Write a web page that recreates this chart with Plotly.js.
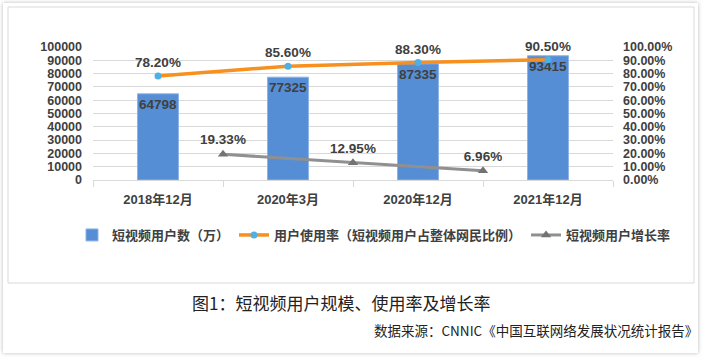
<!DOCTYPE html>
<html>
<head>
<meta charset="utf-8">
<script src="https://cdn.plot.ly/plotly-3.0.1.min.js"></script>
<style>
html,body{margin:0;padding:0;background:#fff;}
#card{position:absolute;left:3px;top:3px;width:695px;height:350px;background:#fff;box-shadow:0 0 4px rgba(0,0,0,0.28);}
#chart{position:absolute;left:0;top:0;width:704px;height:359px;}
</style>
</head>
<body>
<div id="card"></div>
<div id="chart"></div>
<script>
const categories = ['2018年12月', '2020年3月', '2020年12月', '2021年12月'];
const users = [64798, 77325, 87335, 93415];
const usageRate = [0.782, 0.856, 0.883, 0.905];
const growthRate = [0.1933, 0.1295, 0.0696];
const seriesNames = ['短视频用户数（万）', '用户使用率（短视频用户占整体网民比例）', '短视频用户增长率'];
const chartTitle = '图1：短视频用户规模、使用率及增长率';
const sourceText = '数据来源：CNNIC《中国互联网络发展状况统计报告》';

const catPos = categories.map((c, i) => i);
const midPos = growthRate.map((g, i) => i + 0.5);
const pct = v => (v * 100).toFixed(2) + '%';

const FONT = 'Liberation Sans, Arial, Noto Sans CJK SC, sans-serif';
const CJK = 'Noto Sans CJK SC, Liberation Sans, sans-serif';
const TXT = '#404040';

const traces = [
  {
    type: 'bar', name: seriesNames[0], x: catPos, y: users, width: 0.315,
    marker: {color: '#558ed5', line: {color: '#8db3e8', width: 1}},
    text: users.map(String), textposition: 'inside', insidetextanchor: 'end',
    textangle: 0, constraintext: 'none',
    textfont: {family: FONT, size: 13.5, color: TXT, weight: 'bold'},
    cliponaxis: false, hoverinfo: 'none'
  },
  {
    type: 'scatter', mode: 'lines+markers+text', name: seriesNames[1], x: catPos, y: usageRate, yaxis: 'y2',
    line: {color: '#f7901e', width: 3.5},
    marker: {color: '#4fb0e3', size: 7, symbol: 'circle'},
    text: usageRate.map(pct), textposition: 'top center',
    textfont: {family: FONT, size: 13.5, color: TXT, weight: 'bold'},
    cliponaxis: false, hoverinfo: 'none'
  },
  {
    type: 'scatter', mode: 'lines+markers+text', name: seriesNames[2], x: midPos, y: growthRate, yaxis: 'y2',
    line: {color: '#909090', width: 3},
    marker: {color: '#737373', size: 9, symbol: 'triangle-up'},
    text: growthRate.map(pct), textposition: 'top center',
    textfont: {family: FONT, size: 13.5, color: TXT, weight: 'bold'},
    cliponaxis: false, hoverinfo: 'none'
  }
];

const px = v => (v - 93) / 520;
const py = v => (180 - v) / 133;

const layout = {
  width: 704, height: 359,
  margin: {l: 93, r: 91, t: 47, b: 179},
  paper_bgcolor: 'rgba(0,0,0,0)', plot_bgcolor: 'rgba(0,0,0,0)',
  font: {family: FONT, color: TXT},
  showlegend: true,
  bargap: 0,
  xaxis: {
    type: 'linear', range: [-0.5, 3.5], tickvals: catPos, ticktext: categories,
    ticks: '', showgrid: false, zeroline: false,
    showline: true, linecolor: '#d9d9d9', linewidth: 1, ticklabelstandoff: 7,
    tickfont: {family: FONT, size: 13, color: TXT, weight: 'bold'},
    minor: {tickvals: [-0.5, 0.5, 1.5, 2.5, 3.5], ticks: 'outside', ticklen: 6, tickcolor: '#d9d9d9', showgrid: false},
    fixedrange: true
  },
  yaxis: {
    range: [0, 100000], dtick: 10000, tickformat: 'd',
    showgrid: true, gridcolor: '#d9d9d9', gridwidth: 1, zeroline: false,
    showline: false, ticks: '', ticklabelstandoff: 10,
    tickfont: {family: FONT, size: 12.5, color: TXT, weight: 'bold'},
    fixedrange: true
  },
  yaxis2: {
    overlaying: 'y', side: 'right', range: [0, 1], dtick: 0.1, tickformat: '.2%',
    showgrid: false, zeroline: false, showline: false, ticks: '', ticklabelstandoff: 9,
    tickfont: {family: FONT, size: 12.5, color: TXT, weight: 'bold'},
    fixedrange: true
  },
  legend: {
    orientation: 'h', x: px(72), xanchor: 'left', y: py(235), yanchor: 'middle',
    font: {family: CJK, size: 13, color: TXT, weight: 'bold'},
    bgcolor: 'rgba(0,0,0,0)', itemclick: false, itemdoubleclick: false,
    tracegroupgap: 0, itemwidth: 30
  },
  shapes: [
    {type: 'rect', xref: 'paper', yref: 'paper', x0: px(8), x1: px(694), y0: py(283), y1: py(7),
     line: {color: '#d9d9d9', width: 1}, fillcolor: 'rgba(0,0,0,0)', layer: 'below'}
  ],
  annotations: [
    {xref: 'paper', yref: 'paper', x: px(341), y: py(302), xanchor: 'center', yanchor: 'middle',
     text: chartTitle, showarrow: false, font: {family: CJK, size: 17, color: '#222'}},
    {xref: 'paper', yref: 'paper', x: px(700), y: py(330), xanchor: 'right', yanchor: 'middle',
     text: sourceText, showarrow: false, font: {family: CJK, size: 13.5, color: '#222'}}
  ]
};

Plotly.newPlot('chart', traces, layout, {displayModeBar: false, staticPlot: true});
</script>
</body>
</html>
